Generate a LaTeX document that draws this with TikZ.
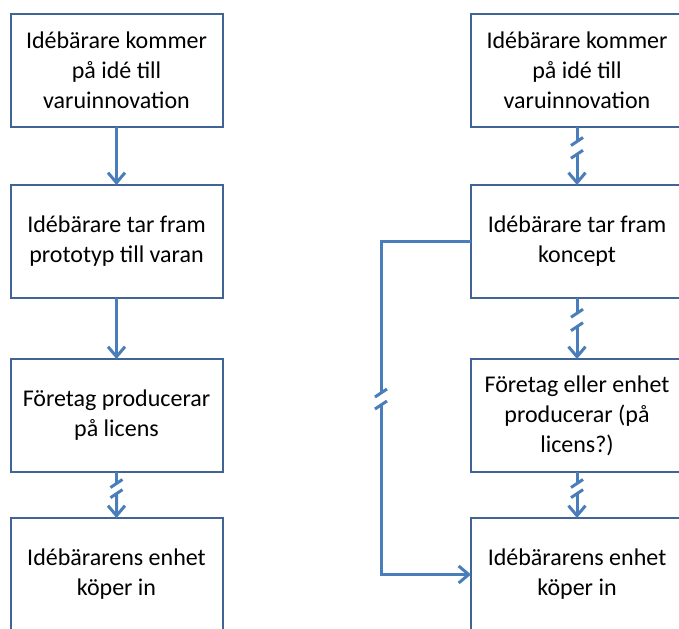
\documentclass[tikz,border=0pt]{standalone}
\usepackage{fontspec}
\setmainfont{Carlito}
\usetikzlibrary{arrows.meta,calc}
\definecolor{boxline}{RGB}{65,100,150}
\definecolor{arrline}{RGB}{74,126,187}

\begin{document}
\begin{tikzpicture}[x=.5pt,y=-.5pt,
  stepbox/.style={draw=boxline,line width=1pt,minimum width=106pt,minimum height=56.5pt,
    inner sep=0pt,outer sep=0pt,align=center,font=\fontsize{12}{15}\selectfont},
  link/.style={draw=arrline,line width=1.5pt},
  tip/.style={-{Straight Barb[length=5pt,width=8.5pt]}}]
\useasboundingbox (0,0) rectangle (679,628);

% left column
\node[stepbox] (l1) at (116.5,70.5) {Idébärare kommer\\på idé till\\varuinnovation};
\node[stepbox] (l2) at (116.5,241.5) {Idébärare tar fram\\prototyp till varan};
\node[stepbox] (l3) at (116.5,415.5) {Företag producerar\\på licens};
\node[stepbox] (l4) at (116.5,574.5) {Idébärarens enhet\\köper in};

% right column
\node[stepbox] (r1) at (577,70.5) {Idébärare kommer\\på idé till\\varuinnovation};
\node[stepbox] (r2) at (577,241.5) {Idébärare tar fram\\koncept};
\node[stepbox] (r3) at (577,415.5) {Företag eller enhet\\producerar (på\\licens?)};
\node[stepbox] (r4) at (577,574.5) {Idébärarens enhet\\köper in};

\draw[link,tip] (l1) -- (l2);
\draw[link,tip] (l2) -- (l3);

% broken arrows
\foreach \a/\b in {l3/l4,r1/r2,r2/r3,r3/r4}{
  \coordinate (g1) at ($(\a.south)!.25!(\b.north)$);
  \coordinate (g2) at ($(\a.south)!.47!(\b.north)$);
  \draw[link] (\a.south) -- (g1);
  \draw[link,tip] (g2) -- (\b.north);
  \draw[link] ($(g1)+(-6,4)$) -- ($(g1)+(6,-4)$);
  \draw[link] ($(g2)+(-6,4)$) -- ($(g2)+(6,-4)$);
}

% side path
\coordinate (s1) at (381,241.5);
\coordinate (s2) at (381,574.5);
\coordinate (b1) at (381,393);
\coordinate (b2) at (381,405);
\draw[link] (r2.west) -- (s1) -- (b1);
\draw[link,tip] (b2) -- (s2) -- (r4.west);
\draw[link] ($(b1)+(-6,4)$) -- ($(b1)+(6,-4)$);
\draw[link] ($(b2)+(-6,4)$) -- ($(b2)+(6,-4)$);

\end{tikzpicture}
\end{document}
